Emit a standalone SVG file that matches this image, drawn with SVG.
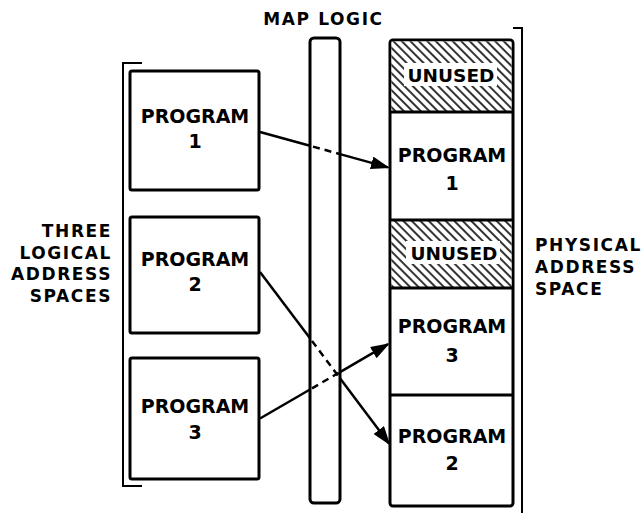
<svg xmlns="http://www.w3.org/2000/svg" width="642" height="513" viewBox="0 0 642 513">
<style>
text{font-family:"DejaVu Sans","Liberation Sans",Arial,sans-serif;font-weight:bold;fill:#000}
.lbl{font-size:17px;letter-spacing:1.6px}
.prog{font-size:19px;letter-spacing:0px;text-anchor:middle}
.unused{font-size:18.5px;letter-spacing:0px;text-anchor:middle}
.box{fill:#fff;stroke:#000;stroke-width:3}
.brk{fill:none;stroke:#000;stroke-width:2}
.ln{fill:none;stroke:#000;stroke-width:2.5}
.dash{fill:none;stroke:#000;stroke-width:2.5;stroke-dasharray:7 5}
</style>
<defs>
<pattern id="hatch" patternUnits="userSpaceOnUse" width="6" height="6" patternTransform="rotate(45)">
<rect width="6" height="6" fill="#fff"/>
<line x1="0" y1="3" x2="6" y2="3" stroke="#000" stroke-width="1.6"/>
</pattern>
<marker id="arr" markerUnits="userSpaceOnUse" markerWidth="19" markerHeight="14" refX="17" refY="6.5" orient="auto">
<path d="M0,0 L19,6.5 L0,13 z" fill="#000"/>
</marker>
</defs>
<rect width="642" height="513" fill="#fff"/>

<g id="title-map-logic"><text class="lbl" x="323.5" y="25" text-anchor="middle">MAP LOGIC</text></g>

<g id="map-logic-bar"><rect x="310" y="38" width="30" height="465" rx="4" class="box"/></g>

<g id="left-bracket"><path class="brk" d="M142,63 H123 V486 H142"/></g>
<g id="left-label">
<text class="lbl" text-anchor="end" x="112" y="237">THREE</text>
<text class="lbl" text-anchor="end" x="112" y="258.5">LOGICAL</text>
<text class="lbl" text-anchor="end" x="112" y="280">ADDRESS</text>
<text class="lbl" text-anchor="end" x="112" y="301.5">SPACES</text>
</g>

<g id="logical-program-1"><rect class="box" x="130" y="71" width="129" height="119" rx="2"/>
<text class="prog" x="195" y="123">PROGRAM</text><text class="prog" x="195" y="148">1</text></g>
<g id="logical-program-2"><rect class="box" x="130" y="217" width="129" height="116" rx="2"/>
<text class="prog" x="195" y="266">PROGRAM</text><text class="prog" x="195" y="291">2</text></g>
<g id="logical-program-3"><rect class="box" x="130" y="358" width="129" height="121" rx="2"/>
<text class="prog" x="195" y="413">PROGRAM</text><text class="prog" x="195" y="439">3</text></g>

<g id="physical-space">
<rect class="box" x="390" y="40" width="123" height="466" rx="3"/>
</g>
<g id="physical-unused-1">
<rect x="391.5" y="41.5" width="120" height="70" fill="url(#hatch)"/>
<rect x="404" y="63" width="93" height="23" fill="#fff"/>
<text class="unused" x="451" y="82">UNUSED</text>
</g>
<g id="physical-program-1">
<text class="prog" x="452" y="162">PROGRAM</text><text class="prog" x="452" y="190">1</text>
</g>
<g id="physical-unused-2">
<rect x="391.5" y="221" width="120" height="67" fill="url(#hatch)"/>
<rect x="406" y="241" width="94" height="23" fill="#fff"/>
<text class="unused" x="454" y="260">UNUSED</text>
</g>
<g id="physical-program-3">
<text class="prog" x="452" y="333">PROGRAM</text><text class="prog" x="452" y="362">3</text>
</g>
<g id="physical-program-2">
<text class="prog" x="452" y="443">PROGRAM</text><text class="prog" x="452" y="470">2</text>
</g>
<g id="dividers">
<line x1="390" y1="112" x2="513" y2="112" stroke="#000" stroke-width="3"/>
<line x1="390" y1="220" x2="513" y2="220" stroke="#000" stroke-width="3"/>
<line x1="390" y1="288" x2="513" y2="288" stroke="#000" stroke-width="3"/>
<line x1="390" y1="395" x2="513" y2="395" stroke="#000" stroke-width="3"/>
</g>

<g id="right-bracket"><path class="brk" d="M513,28 H522 V513"/></g>
<g id="right-label">
<text class="lbl" x="535" y="251">PHYSICAL</text>
<text class="lbl" x="535" y="273">ADDRESS</text>
<text class="lbl" x="535" y="295">SPACE</text>
</g>

<g id="connectors">
<line class="ln" x1="260" y1="132" x2="310" y2="145.8"/>
<line class="dash" x1="313" y1="146.6" x2="340" y2="154.1"/>
<line class="ln" x1="340" y1="154.1" x2="388" y2="167.4" marker-end="url(#arr)"/>

<line class="ln" x1="260" y1="272" x2="310" y2="338.3"/>
<line class="dash" x1="312" y1="341" x2="340" y2="378.3"/>
<line class="ln" x1="340" y1="378.3" x2="389" y2="443.6" marker-end="url(#arr)"/>

<line class="ln" x1="260" y1="418.5" x2="310" y2="389.5"/>
<line class="dash" x1="312" y1="388.3" x2="340" y2="372.1"/>
<line class="ln" x1="340" y1="372.1" x2="388" y2="344.2" marker-end="url(#arr)"/>
</g>
</svg>
